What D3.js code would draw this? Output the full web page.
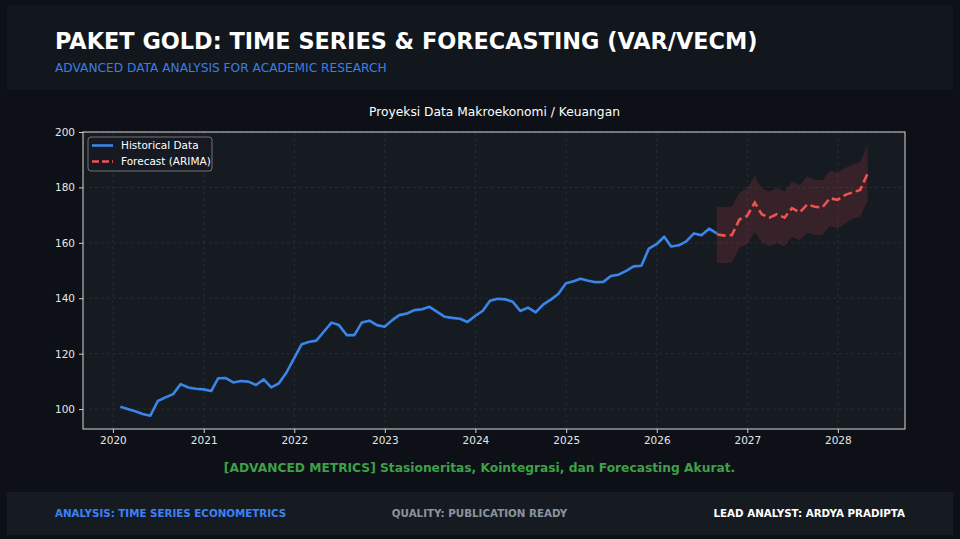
<!DOCTYPE html>
<html>
<head>
<meta charset="utf-8">
<script src="https://cdn.jsdelivr.net/npm/d3@7"></script>
<style>
  html, body { margin: 0; padding: 0; background: #0d1117; }
  svg { display: block; font-family: "DejaVu Sans", sans-serif; }
</style>
</head>
<body>
<div id="chart"></div>
<script>
// historical series, monthly (month-end) from Jan 2020
const histStart = "2020-01-31";
const histValues = [
  100.8, 100.0, 99.2, 98.2, 97.6, 102.9, 104.2, 105.4, 109.0, 107.8, 107.3, 107.1,
  106.5, 111.1, 111.2, 109.6, 110.1, 109.9, 108.7, 110.7, 107.8, 109.3, 113.1, 118.3,
  123.4, 124.2, 124.7, 127.9, 131.2, 130.3, 126.7, 126.7, 131.2, 131.9, 130.3, 129.7,
  132.1, 133.9, 134.5, 135.7, 136.0, 136.9, 135.1, 133.3, 132.9, 132.6, 131.4, 133.6,
  135.5, 139.1, 139.8, 139.6, 138.7, 135.4, 136.6, 134.9, 137.7, 139.5, 141.5, 145.4,
  146.1, 147.0, 146.3, 145.8, 145.9, 148.0, 148.5, 149.9, 151.5, 151.7, 157.9, 159.5,
  162.2, 158.7, 159.1, 160.5, 163.4, 162.7, 165.1, 163.4
];

// forecast starts at the last historical month
const forecastValues = [
  163.1, 162.6, 162.8, 168.4, 169.7, 174.5, 170.3, 169.1, 170.3, 169.1, 172.5,
  171.0, 173.9, 173.0, 172.8, 176.1, 175.5, 177.3, 178.2, 179.1, 185.1
];
const forecastUpper = [
  173.0, 172.8, 173.0, 178.2, 179.7, 184.2, 179.7, 178.5, 179.9, 178.5, 182.1,
  180.9, 183.9, 182.7, 182.7, 185.9, 185.4, 187.1, 188.3, 189.1, 195.3
];
const forecastLower = [
  153.0, 152.6, 153.0, 158.2, 159.4, 164.0, 160.2, 158.8, 159.8, 158.8, 162.2,
  160.8, 163.6, 162.8, 162.8, 166.2, 165.2, 167.0, 168.6, 169.4, 175.2
];

const yTicks = [100, 120, 140, 160, 180, 200];
const xTickYears = [2020, 2021, 2022, 2023, 2024, 2025, 2026, 2027, 2028];

// month-end dates
function monthEnd(start, i) {
  const s = new Date(start + "T00:00:00Z");
  return new Date(Date.UTC(s.getUTCFullYear(), s.getUTCMonth() + i + 1, 0));
}
const hist = histValues.map((v, i) => ({ date: monthEnd(histStart, i), value: v }));
const fcStartIdx = histValues.length - 1;
const forecast = forecastValues.map((v, i) => ({
  date: monthEnd(histStart, fcStartIdx + i),
  value: v,
  lo: forecastLower[i],
  hi: forecastUpper[i]
}));

const W = 960, H = 539;
const plot = { left: 83, right: 905, top: 132, bottom: 429 };

const svg = d3.select("#chart").append("svg")
  .attr("width", W)
  .attr("height", H);

svg.append("rect").attr("width", W).attr("height", H).attr("fill", "#0d1117");

// header panel
svg.append("rect")
  .attr("x", 7).attr("y", 5).attr("width", 946).attr("height", 85)
  .attr("fill", "#12161d");
svg.append("text")
  .attr("x", 55).attr("y", 49)
  .attr("fill", "#ffffff")
  .style("font-size", "22.4px").style("font-weight", "bold")
  .text("PAKET GOLD: TIME SERIES & FORECASTING (VAR/VECM)");
svg.append("text")
  .attr("x", 55).attr("y", 72)
  .attr("fill", "#3b7fe0")
  .style("font-size", "12.2px")
  .text("ADVANCED DATA ANALYSIS FOR ACADEMIC RESEARCH");

// footer panel
svg.append("rect")
  .attr("x", 7).attr("y", 492).attr("width", 946).attr("height", 43)
  .attr("fill", "#161b22");
svg.append("text")
  .attr("x", 55).attr("y", 517)
  .attr("fill", "#3b82f6")
  .style("font-size", "10.3px").style("font-weight", "bold")
  .text("ANALYSIS: TIME SERIES ECONOMETRICS");
svg.append("text")
  .attr("x", 479.5).attr("y", 517).attr("text-anchor", "middle")
  .attr("fill", "#8b949e")
  .style("font-size", "10.3px").style("font-weight", "bold")
  .text("QUALITY: PUBLICATION READY");
svg.append("text")
  .attr("x", 905).attr("y", 517).attr("text-anchor", "end")
  .attr("fill", "#ffffff")
  .style("font-size", "10.3px").style("font-weight", "bold")
  .text("LEAD ANALYST: ARDYA PRADIPTA");

// green note
svg.append("text")
  .attr("x", 479.5).attr("y", 472).attr("text-anchor", "middle")
  .attr("fill", "#3fa047")
  .style("font-size", "12.25px").style("font-weight", "bold")
  .text("[ADVANCED METRICS] Stasioneritas, Kointegrasi, dan Forecasting Akurat.");

// chart title
svg.append("text")
  .attr("x", 494.5).attr("y", 116).attr("text-anchor", "middle")
  .attr("fill", "#ffffff")
  .style("font-size", "12.25px")
  .text("Proyeksi Data Makroekonomi / Keuangan");

// scales (5% margins like matplotlib)
const allDates = hist.map(d => d.date).concat(forecast.map(d => d.date));
const [d0, d1] = d3.extent(allDates);
const pad = (d1 - d0) * 0.05;
const x = d3.scaleUtc()
  .domain([new Date(+d0 - pad), new Date(+d1 + pad)])
  .range([plot.left, plot.right]);
// bottom of y domain
const y = d3.scaleLinear()
  .domain([92.8, 200])
  .range([plot.bottom, plot.top]);

svg.append("rect")
  .attr("x", plot.left).attr("y", plot.top)
  .attr("width", plot.right - plot.left).attr("height", plot.bottom - plot.top)
  .attr("fill", "#161a21");

const xTickDates = xTickYears.map(yr => new Date(Date.UTC(yr, 0, 1)));

// grid
const grid = svg.append("g");
grid.selectAll("line.v").data(xTickDates).join("line")
  .attr("class", "v")
  .attr("x1", d => x(d)).attr("x2", d => x(d))
  .attr("y1", plot.top).attr("y2", plot.bottom)
  .attr("stroke", "#2c313a").attr("stroke-width", 0.8)
  .attr("stroke-dasharray", "3,3");
grid.selectAll("line.h").data(yTicks).join("line")
  .attr("class", "h")
  .attr("x1", plot.left).attr("x2", plot.right)
  .attr("y1", d => y(d)).attr("y2", d => y(d))
  .attr("stroke", "#2c313a").attr("stroke-width", 0.8)
  .attr("stroke-dasharray", "3,3");

// axes
const xAxis = svg.append("g")
  .attr("transform", `translate(0,${plot.bottom})`)
  .call(d3.axisBottom(x).tickValues(xTickDates).tickFormat(d3.utcFormat("%Y")).tickSizeOuter(0).tickSize(4).tickPadding(4));
const yAxis = svg.append("g")
  .attr("transform", `translate(${plot.left},0)`)
  .call(d3.axisLeft(y).tickValues(yTicks).tickSizeOuter(0).tickSize(4).tickPadding(4));
[xAxis, yAxis].forEach(g => {
  g.select(".domain").remove();
  g.selectAll(".tick line").attr("stroke", "#d0d0d0");
  g.selectAll(".tick text").attr("fill", "#e6e6e6")
    .style("font-size", "10.5px").style("font-family", "DejaVu Sans, sans-serif");
});

// confidence band
svg.append("path")
  .datum(forecast)
  .attr("fill", "#ef5350")
  .attr("fill-opacity", 0.15)
  .attr("d", d3.area()
    .x(d => x(d.date))
    .y0(d => y(d.lo))
    .y1(d => y(d.hi)));

// historical line
svg.append("path")
  .datum(hist)
  .attr("fill", "none")
  .attr("stroke", "#3a86e8")
  .attr("stroke-width", 2.6)
  .attr("stroke-linejoin", "round")
  .attr("d", d3.line().x(d => x(d.date)).y(d => y(d.value)));

// forecast line
svg.append("path")
  .datum(forecast)
  .attr("fill", "none")
  .attr("stroke", "#ef5350")
  .attr("stroke-width", 2.6)
  .attr("stroke-dasharray", "9,4")
  .attr("d", d3.line().x(d => x(d.date)).y(d => y(d.value)));

// frame
svg.append("rect")
  .attr("x", plot.left).attr("y", plot.top)
  .attr("width", plot.right - plot.left).attr("height", plot.bottom - plot.top)
  .attr("fill", "none")
  .attr("stroke", "#d8d8d8").attr("stroke-width", 1);

// legend
const legend = svg.append("g").attr("transform", "translate(88,137)");
legend.append("rect")
  .attr("width", 124).attr("height", 34).attr("rx", 3)
  .attr("fill", "#161a21").attr("fill-opacity", 0.85)
  .attr("stroke", "#8a8a8a").attr("stroke-width", 0.8);
const legendItems = [
  { label: "Historical Data", color: "#3a86e8", dash: null },
  { label: "Forecast (ARIMA)", color: "#ef5350", dash: "7,3" }
];
legendItems.forEach((it, i) => {
  const yy = 8.5 + i * 16;
  legend.append("line")
    .attr("x1", 4).attr("x2", 25).attr("y1", yy).attr("y2", yy)
    .attr("stroke", it.color).attr("stroke-width", 2.6)
    .attr("stroke-dasharray", it.dash);
  legend.append("text")
    .attr("x", 33).attr("y", yy + 3.8)
    .attr("fill", "#ffffff")
    .style("font-size", "10.5px")
    .text(it.label);
});
</script>
</body>
</html>
